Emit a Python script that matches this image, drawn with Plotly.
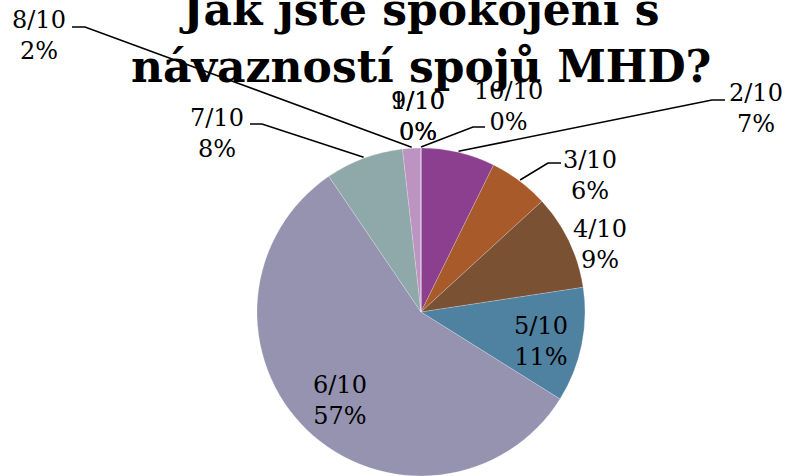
import math
import plotly.graph_objects as go

# ---- data ----
categories = ["1/10", "2/10", "3/10", "4/10", "5/10", "6/10", "7/10", "8/10", "9/10", "10/10"]
values = [0, 7.3, 5.9, 9.4, 11.3, 56.6, 7.7, 1.8, 0, 0]
colors = ["#4F81A1", "#8B3F8E", "#A85A2A", "#7B5134", "#4F81A1",
          "#9593B0", "#8FA8A9", "#BC93C1", "#8B3F8E", "#A85A2A"]
title_text = "Jak jste spokojeni s<br>návazností spojů MHD?"

# ---- layout (pixels) ----
W, H = 785, 476
CX, CY, R = 421, 312, 165
# label block centres (px from top-left)
label_pos = {
    "1/10": (418, 116), "2/10": (756, 109), "3/10": (590, 175), "4/10": (600, 245),
    "5/10": (541, 341), "6/10": (340, 400), "7/10": (217, 133), "8/10": (39, 36),
    "9/10": (418, 116), "10/10": (508, 106),
}
# leader lines: elbow point and stub end (px)
leaders = {
    "2/10": ((712, 100), (725, 100)),
    "3/10": ((548, 163), (561, 163)),
    "7/10": ((262, 124), (250, 124)),
    "8/10": ((85, 27), (72, 27)),
    "10/10": ((473, 127), (485, 127)),
}

fig = go.Figure()
fig.add_trace(go.Pie(
    labels=categories, values=values, sort=False, direction="clockwise", rotation=0,
    marker=dict(colors=colors, line=dict(color="rgba(255,255,255,0.35)", width=0.6)),
    textinfo="none", hoverinfo="label+percent", showlegend=False,
    domain=dict(x=[(CX - R) / W, (CX + R) / W], y=[0, 2 * (H - CY) / H]),
))

total = sum(values)

def px(x):
    return x / W

def py(y):
    return 1 - y / H

annotations = []
shapes = []
cum = 0.0
for cat, v in zip(categories, values):
    mid = (cum + v / 2) / total * 2 * math.pi
    cum += v
    pct = round(v / total * 100)
    lx, ly = label_pos[cat]
    annotations.append(dict(
        x=px(lx), y=py(ly), xref="paper", yref="paper", showarrow=False,
        text=f"{cat}<br>{pct}%", align="center",
        font=dict(family="DejaVu Serif", size=24, color="#000000"),
        xanchor="center", yanchor="middle",
    ))
    if cat in leaders:
        ex = CX + R * math.sin(mid)
        ey = CY - R * math.cos(mid)
        (bx, by), (sx, sy) = leaders[cat]
        path = f"M {px(ex)} {py(ey)} L {px(bx)} {py(by)} L {px(sx)} {py(sy)}"
        shapes.append(dict(type="path", xref="paper", yref="paper", path=path,
                           line=dict(color="#000000", width=1.6)))

annotations.append(dict(
    x=px(421), y=py(38), xref="paper", yref="paper", showarrow=False,
    text=f"<b>{title_text}</b>", align="center",
    font=dict(family="DejaVu Serif", size=44, color="#000000"),
    xanchor="center", yanchor="middle",
))

fig.update_layout(
    width=W, height=H, margin=dict(l=0, r=0, t=0, b=0),
    paper_bgcolor="#FFFFFF", plot_bgcolor="#FFFFFF",
    annotations=annotations, shapes=shapes,
)
fig.write_html("out.html", config={"displayModeBar": False},
               post_script="document.body.style.margin='0px';")
